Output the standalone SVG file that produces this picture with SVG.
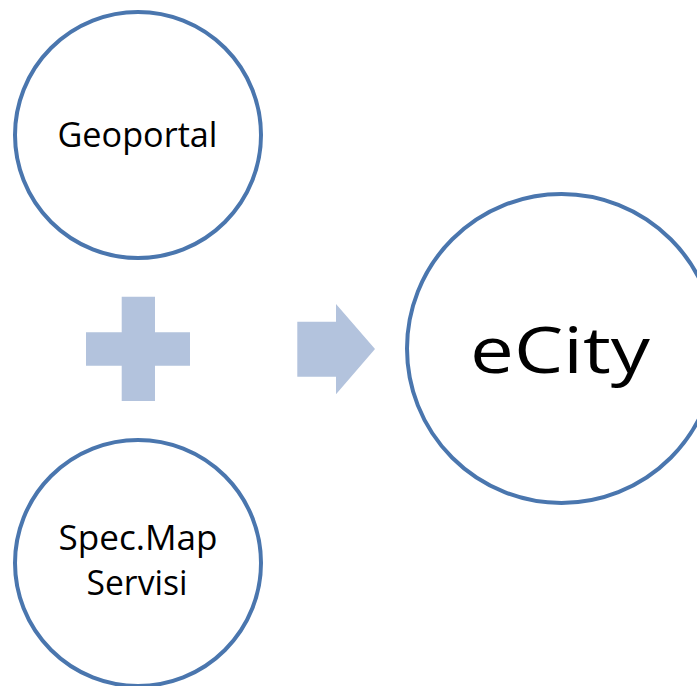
<svg xmlns="http://www.w3.org/2000/svg" width="697" height="686" viewBox="0 0 697 686">
<style>
.node{fill:#ffffff;stroke:#4a76ae;stroke-width:4}
.lbl{font-family:"Open Sans","Noto Sans","Liberation Sans",sans-serif;fill:#000000;text-anchor:middle}
.sym{fill:#b3c3dd}
</style>
<rect width="697" height="686" fill="#ffffff"/>
<g id="geoportal">
<circle class="node" cx="138" cy="135" r="123"/>
<text class="lbl" x="137.5" y="147" font-size="34" textLength="160" lengthAdjust="spacingAndGlyphs">Geoportal</text>
</g>
<g id="specmap">
<circle class="node" cx="138" cy="563" r="123"/>
<text class="lbl" x="138" y="550" font-size="34" textLength="159" lengthAdjust="spacingAndGlyphs">Spec.Map</text>
<text class="lbl" x="137" y="595" font-size="34" textLength="101" lengthAdjust="spacingAndGlyphs">Servisi</text>
</g>
<g id="ecity">
<circle class="node" cx="561.5" cy="348.5" r="154.5"/>
<text class="lbl" x="560" y="373" font-size="64" textLength="180" lengthAdjust="spacingAndGlyphs">eCity</text>
</g>
<g id="connectors">
<path class="sym" d="M121.7,296.7H155V332.3H190V365.7H155V401H121.7V365.7H86V332.3H121.7Z"/>
<path class="sym" d="M297.3,321.7H336V304L375,349L336,394.3V376.7H297.3Z"/>
</g>
</svg>
